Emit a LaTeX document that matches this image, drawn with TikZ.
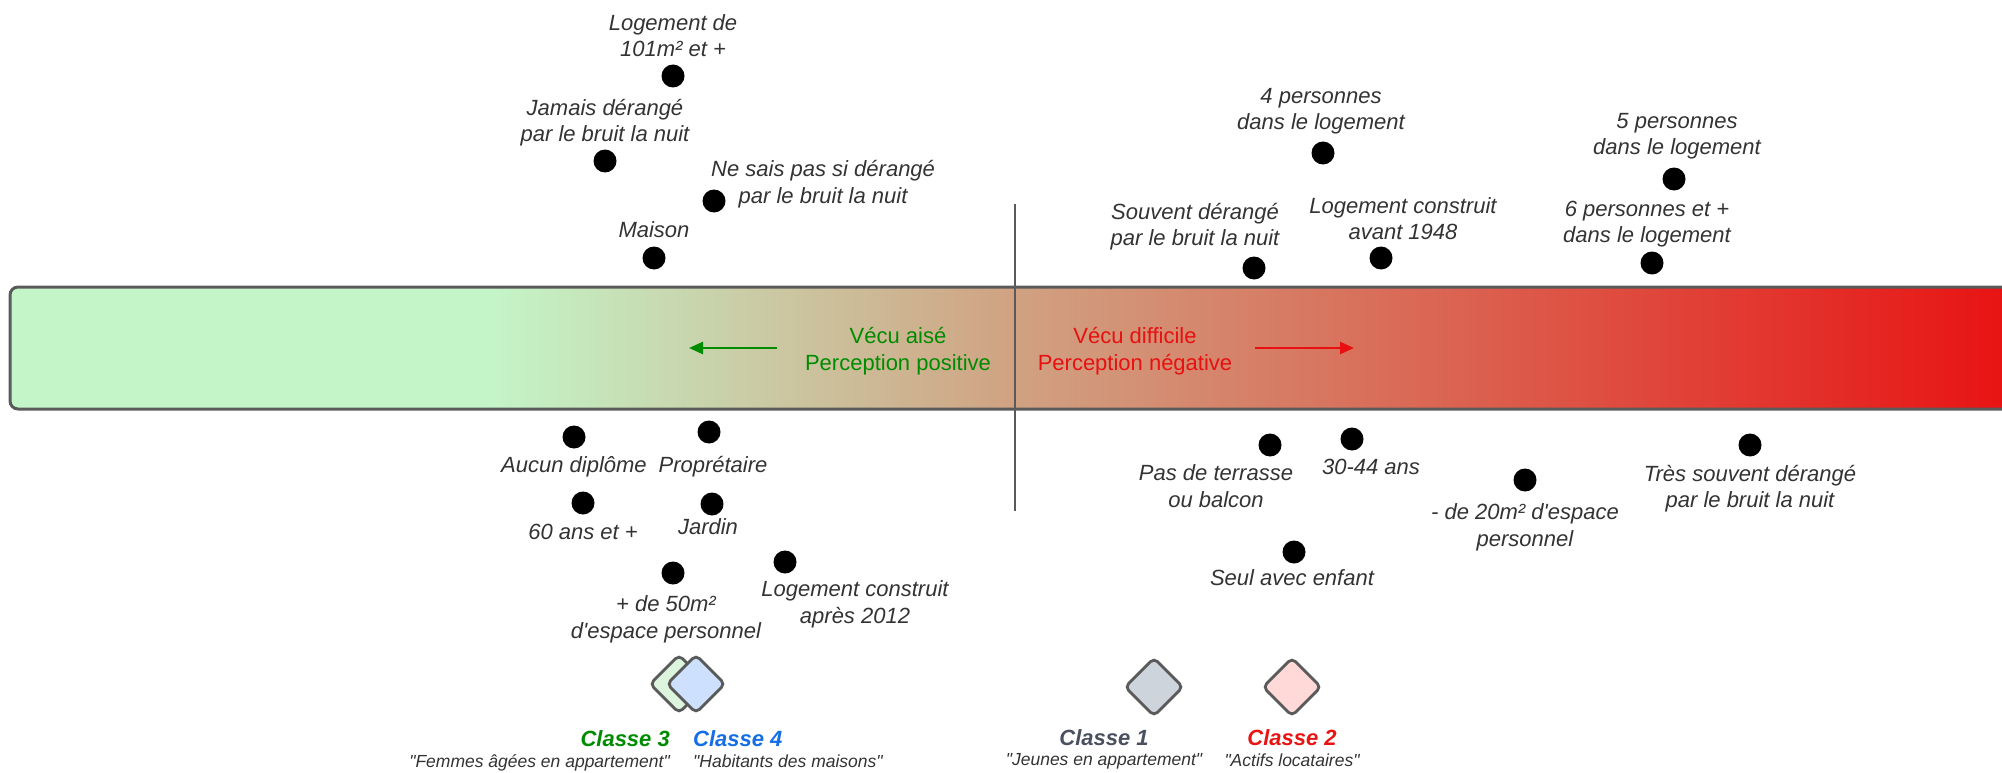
\documentclass[tikz,border=0pt]{standalone}
\usepackage{fontspec}
\setmainfont{Liberation Sans}[Ligatures=TeXOff]
\usetikzlibrary{positioning, shapes.geometric, arrows.meta, calc}
\definecolor{bargreen}{RGB}{196,245,200}
\definecolor{bartan}{RGB}{208,162,130}
\definecolor{barred}{RGB}{232,20,20}
\definecolor{edgegray}{RGB}{90,90,90}
\definecolor{labelgray}{RGB}{51,51,51}
\definecolor{easygreen}{RGB}{0,140,0}
\definecolor{hardred}{RGB}{232,16,16}
\definecolor{slategray}{RGB}{74,80,94}
\definecolor{classblue}{RGB}{20,110,230}
\definecolor{fillgreen}{RGB}{221,245,221}
\definecolor{fillblue}{RGB}{205,225,255}
\definecolor{fillgray}{RGB}{206,212,220}
\definecolor{fillpink}{RGB}{255,216,216}

\begin{document}
\begin{tikzpicture}[x=1pt, y=-1pt,
  dot/.style={circle, fill=black, inner sep=0pt, minimum size=23pt},
  lbl/.style={text=labelgray, align=center, inner sep=0pt, font=\fontsize{22}{26.5}\selectfont\itshape},
  bartext/.style={align=center, inner sep=0pt, font=\fontsize{22}{27}\selectfont},
  gem/.style={diamond, draw=edgegray, line width=2.8pt, rounded corners=5pt, inner sep=0pt, minimum width=59pt, minimum height=59pt},
  cls/.style={inner sep=0pt, font=\fontsize{22}{26}\selectfont\bfseries\itshape},
  tagline/.style={text=labelgray, inner sep=0pt, font=\fontsize{17.5}{21}\selectfont\itshape}]
\useasboundingbox (0,0) rectangle (2002,773);

% gradient bar
\fill[bargreen, rounded corners=8pt] (10,287) rectangle (2030,409);
\shade[left color=bargreen, right color=bartan] (490,287) rectangle (1015,409);
\shade[left color=bartan, right color=barred] (1015,287) rectangle (2002,409);
\fill[barred] (2002,287) rectangle (2030,409);
\draw[edgegray, line width=3pt, rounded corners=8pt] (10,287) rectangle (2030,409);

% divider
\coordinate (divTop) at (1015,204);
\coordinate (divBot) at (1015,511);
\draw[edgegray, line width=2.5pt] (divTop) -- (divBot);

% bar texts
\node[bartext, text=easygreen] (tAise) at (898,351) {Vécu aisé\\Perception positive};
\node[bartext, text=hardred] (tDiff) at (1135,351) {Vécu difficile\\Perception négative};
\coordinate (aiseEnd) at (689,348);
\coordinate (diffEnd) at (1354,348);
\draw[easygreen, line width=2.5pt, -{Triangle[length=14pt, width=12pt]}] ([xshift=-28pt, yshift=3pt]tAise.west) -- (aiseEnd);
\draw[hardred, line width=2.5pt, -{Triangle[length=14pt, width=12pt]}] ([xshift=23pt, yshift=3pt]tDiff.east) -- (diffEnd);

% top left
\node[dot] (d101) at (673,76) {};
\node[lbl, above=7pt of d101] (t101) {Logement de\\101m² et +};
\node[dot] (dJamais) at (605,161) {};
\node[lbl, above=3pt of dJamais] (tJamais) {Jamais dérangé\\par le bruit la nuit};
\node[dot] (dNeSais) at (714,201) {};
\node[lbl, anchor=south west] (tNeSais) at ($(dNeSais)+(-3,7)$) {Ne sais pas si dérangé\\par le bruit la nuit};
\node[dot] (dMaison) at (654,258) {};
\node[lbl, above=8pt of dMaison] (tMaison) {Maison};

% top right
\node[dot] (d4pers) at (1323,153) {};
\node[lbl, above=7pt of d4pers, xshift=-2pt] (t4pers) {4 personnes\\dans le logement};
\node[dot] (d5pers) at (1674,179) {};
\node[lbl, above=8pt of d5pers, xshift=3pt] (t5pers) {5 personnes\\dans le logement};
\node[dot] (dSouvent) at (1254,268) {};
\node[lbl, above=6pt of dSouvent, xshift=-59pt] (tSouvent) {Souvent dérangé\\par le bruit la nuit};
\node[dot] (dAvant) at (1381,258) {};
\node[lbl, above=6pt of dAvant, xshift=22pt] (tAvant) {Logement construit\\avant 1948};
\node[dot] (d6pers) at (1652,263) {};
\node[lbl, above=4pt of d6pers, xshift=-5pt] (t6pers) {6 personnes et +\\dans le logement};

% bottom left
\node[dot] (dAucun) at (574,437) {};
\node[lbl, below=8pt of dAucun] (tAucun) {Aucun diplôme};
\node[dot] (dProp) at (709,432) {};
\node[lbl, below=12pt of dProp, xshift=4pt] (tProp) {Proprétaire};
\node[dot] (d60) at (583,503) {};
\node[lbl, below=9pt of d60] (t60) {60 ans et +};
\node[dot] (dJardin) at (712,504) {};
\node[lbl, below=3pt of dJardin, xshift=-4pt] (tJardin) {Jardin};
\node[dot] (d50) at (673,573) {};
\node[lbl, below=11pt of d50, xshift=-7pt] (t50) {+ de 50m²\\d'espace personnel};
\node[dot] (dApres) at (785,562) {};
\node[lbl, below=7pt of dApres, xshift=70pt] (tApres) {Logement construit\\après 2012};

% bottom right
\node[dot] (dTerrasse) at (1270,445) {};
\node[lbl, below=8pt of dTerrasse, xshift=-54pt] (tTerrasse) {Pas de terrasse\\ou balcon};
\node[dot] (d3044) at (1352,439) {};
\node[lbl, below=8pt of d3044, xshift=19pt] (t3044) {30-44 ans};
\node[dot] (d20) at (1525,480) {};
\node[lbl, below=12pt of d20] (t20) {- de 20m² d'espace\\personnel};
\node[dot] (dSeul) at (1294,552) {};
\node[lbl, below=6pt of dSeul, xshift=-2pt] (tSeul) {Seul avec enfant};
\node[dot] (dTres) at (1750,445) {};
\node[lbl, below=8pt of dTres] (tTres) {Très souvent dérangé\\par le bruit la nuit};

% classes
\node[gem, fill=fillgreen] (dC3) at (679,684) {};
\node[gem, fill=fillblue] (dC4) at (696,684) {};
\node[gem, fill=fillgray] (dC1) at (1154,687) {};
\node[gem, fill=fillpink] (dC2) at (1292,687) {};

\node[cls, text=easygreen, anchor=north east] (nC3) at ([xshift=-9pt, yshift=-15pt]dC3.south) {Classe 3};
\node[cls, text=classblue, anchor=north west] (nC4) at ([xshift=-3pt, yshift=-15pt]dC4.south) {Classe 4};
\node[cls, text=slategray, below=11pt of dC1, xshift=-50pt] (nC1) {Classe 1};
\node[cls, text=barred, below=11pt of dC2] (nC2) {Classe 2};

\node[tagline, anchor=north east] (gC3) at ([yshift=-8pt]nC3.south east) {"Femmes âgées en appartement"};
\node[tagline, anchor=north west] (gC4) at ([yshift=-8pt]nC4.south west) {"Habitants des maisons"};
\node[tagline, below=8pt of nC1] (gC1) {"Jeunes en appartement"};
\node[tagline, below=8pt of nC2] (gC2) {"Actifs locataires"};
\end{tikzpicture}
\end{document}
